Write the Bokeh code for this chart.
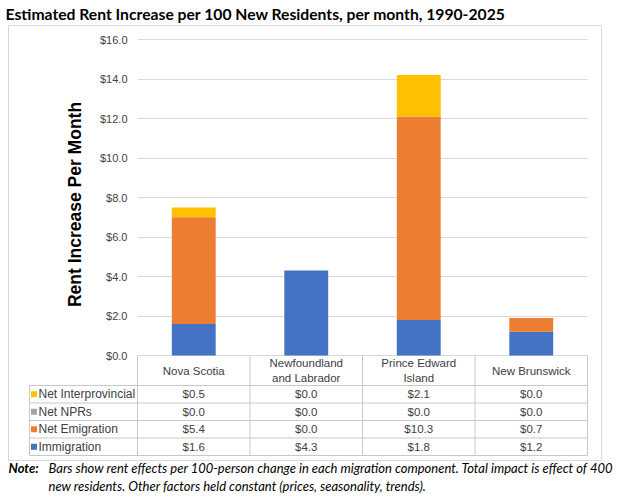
from math import pi
from bokeh.plotting import figure
from bokeh.models import FactorRange, Range1d, FixedTicker, NumeralTickFormatter, ColumnDataSource
from bokeh.core.properties import value
from bokeh.embed import file_html
from bokeh.resources import INLINE

# data
provinces = ["Nova Scotia", "Newfoundland and Labrador", "Prince Edward Island", "New Brunswick"]
province_labels = ["Nova Scotia", "Newfoundland\nand Labrador", "Prince Edward\nIsland", "New Brunswick"]
components = ["Immigration", "Net Emigration", "Net NPRs", "Net Interprovincial"]
colors = ["#4472C4", "#ED7D31", "#A5A5A5", "#FFC000"]
immigration = [1.6, 4.3, 1.8, 1.2]
net_emigration = [5.4, 0.0, 10.3, 0.7]
net_nprs = [0.0, 0.0, 0.0, 0.0]
net_interprovincial = [0.5, 0.0, 2.1, 0.0]
y_ticks = [0, 2, 4, 6, 8, 10, 12, 14, 16]

title = "Estimated Rent Increase per 100 New Residents, per month, 1990-2025"
note_1 = "Bars show rent effects per 100-person change in each migration component. Total impact is effect of 400"
note_2 = "new residents. Other factors held constant (prices, seasonality, trends)."

# layout in pixels of the picture
W, H = 619, 497
PLOT_L, PLOT_R = 137, 587
Y0, Y16 = 355, 39
CAT_W = (PLOT_R - PLOT_L) / len(provinces)
PX_UNIT = (Y0 - Y16) / 16.0
FRAME_TOP, FRAME_BOT = 37, 456


def dx(px):
    return (px - PLOT_L) / CAT_W


def dy(py):
    return (Y0 - py) / PX_UNIT


p = figure(x_range=FactorRange(*provinces), y_range=Range1d(dy(FRAME_BOT), dy(FRAME_TOP)),
           width=W, height=H, output_backend="svg", toolbar_location=None,
           x_axis_location=None, min_border_left=PLOT_L, min_border_right=W - PLOT_R,
           min_border_top=FRAME_TOP, min_border_bottom=H - FRAME_BOT)
p.outline_line_color = None
p.background_fill_color = "white"
p.border_fill_color = "white"
p.xgrid.grid_line_color = None

ticker = FixedTicker(ticks=y_ticks)
p.yaxis.ticker = ticker
p.ygrid.ticker = ticker
p.ygrid.grid_line_color = "#d9d9d9"
p.yaxis.formatter = NumeralTickFormatter(format="$0.0")
p.yaxis.axis_line_color = None
p.yaxis.major_tick_line_color = None
p.yaxis.minor_tick_line_color = None
p.yaxis.major_tick_out = 0
p.yaxis.major_tick_in = 0
p.yaxis.major_label_standoff = 10
p.yaxis.major_label_text_font = "Liberation Sans"
p.yaxis.major_label_text_font_size = "11px"
p.yaxis.major_label_text_color = "#404040"

src = ColumnDataSource(dict(province=provinces, Immigration=immigration,
                            **{"Net Emigration": net_emigration, "Net NPRs": net_nprs,
                               "Net Interprovincial": net_interprovincial}))
p.vbar_stack(components, x="province", width=0.39, color=colors, line_color=None, source=src)

# outer chart border
p.quad(left=[dx(8)], right=[dx(601)], top=[dy(25)], bottom=[dy(460)],
       fill_alpha=0, line_color="#d9d9d9", line_width=1, level="overlay")

# data table under the bars
rows = [("Net Interprovincial", net_interprovincial, "#FFC000"),
        ("Net NPRs", net_nprs, "#A5A5A5"),
        ("Net Emigration", net_emigration, "#ED7D31"),
        ("Immigration", immigration, "#4472C4")]
HEAD_BOT, ROW_H, LEG_L = 385, 17.5, 29
row_lines = [HEAD_BOT + ROW_H * i for i in range(len(rows) + 1)]
col_lines = [PLOT_L + CAT_W * i for i in range(len(provinces) + 1)]
x0 = [dx(LEG_L)] * len(row_lines) + [dx(c) for c in col_lines] + [dx(LEG_L)]
x1 = [dx(PLOT_R)] * len(row_lines) + [dx(c) for c in col_lines] + [dx(LEG_L)]
y0 = [dy(r) for r in row_lines] + [dy(Y0)] * len(col_lines) + [dy(HEAD_BOT)]
y1 = [dy(r) for r in row_lines] + [dy(row_lines[-1])] * len(col_lines) + [dy(row_lines[-1])]
p.segment(x0, y0, x1, y1, line_color="#c8c8c8", line_width=1, level="overlay")

tfont = value("Liberation Sans")
p.text(x=provinces, y=[dy(370)] * len(provinces), text=province_labels, text_align="center",
       text_baseline="middle", text_font=tfont, text_font_size="11.5px", text_color="#404040",
       text_line_height=1.2)
for i, (name, vals, col) in enumerate(rows):
    yc = dy(HEAD_BOT + ROW_H * (i + 0.5))
    p.text(x=provinces, y=[yc] * len(provinces), text=[f"${v:.1f}" for v in vals],
           text_align="center", text_baseline="middle", text_font=tfont,
           text_font_size="11.5px", text_color="#404040")
    # legend key: a short thick segment makes a 6px square
    p.segment([dx(30.5)], [yc], [dx(36.5)], [yc], line_color=col, line_width=6,
              line_cap="butt", level="overlay")
    p.text(x=[dx(38)], y=[yc], text=[name], text_align="left", text_baseline="middle",
           text_font=tfont, text_font_size="12px", text_color="#404040", level="overlay")

# titles and note
p.text(x=[dx(74)], y=[dy(204)], text=["Rent Increase Per Month"], angle=pi / 2,
       text_align="center", text_baseline="middle", text_font=tfont,
       text_font_style="bold", text_font_size="17.5px", text_color="black", level="overlay")
lato = value("Lato")
p.text(x=[dx(5)], y=[dy(13)], text=[title], text_align="left", text_baseline="middle",
       text_font=lato, text_font_style="bold", text_font_size="15.7px", text_color="black",
       level="overlay")
p.text(x=[dx(8)], y=[dy(467)], text=["Note:"], text_align="left", text_baseline="middle",
       text_font=lato, text_font_style="bold italic", text_font_size="13px", text_color="black",
       level="overlay")
p.text(x=[dx(48), dx(48)], y=[dy(467), dy(485)], text=[note_1, note_2], text_align="left",
       text_baseline="middle", text_font=lato, text_font_style="italic", text_font_size="13px",
       text_color="black", level="overlay")

open("out.html", "w").write(file_html(p, INLINE))
